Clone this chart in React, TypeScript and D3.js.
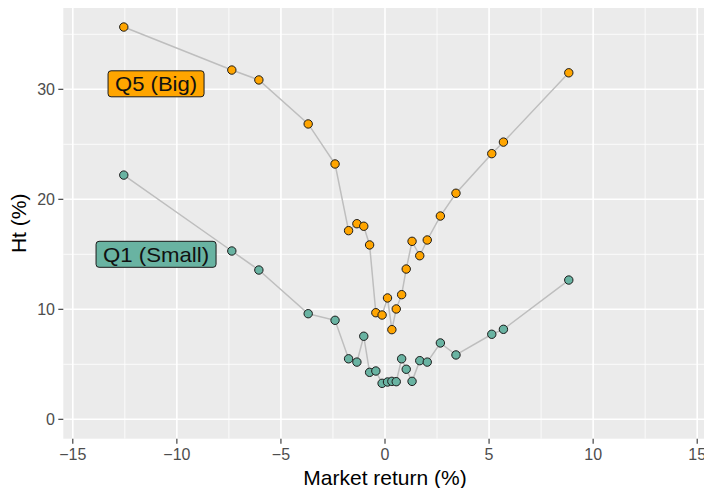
import * as d3 from 'd3';

// market return (%) shared by both size quintiles
const marketReturn = [
  -12.55, -7.36, -6.06, -3.69, -2.4, -1.75, -1.35, -1.02, -0.74, -0.44, -0.14, 0.12,
  0.33, 0.54, 0.8, 1.02, 1.3, 1.67, 2.03, 2.66, 3.41, 5.13, 5.69, 8.83,
];
const htBig = [
  35.66, 31.75, 30.85, 26.85, 23.21, 17.15, 17.78, 17.55, 15.85, 9.69, 9.48, 11.03,
  8.15, 10.03, 11.33, 13.66, 16.18, 14.87, 16.3, 18.48, 20.55, 24.15, 25.2, 31.5,
];
const htSmall = [
  22.2, 15.3, 13.57, 9.6, 9.0, 5.5, 5.2, 7.55, 4.27, 4.39, 3.27, 3.39,
  3.45, 3.42, 5.5, 4.55, 3.45, 5.33, 5.2, 6.94, 5.85, 7.73, 8.18, 12.66,
];
const seriesNames = ['Q5 (Big)', 'Q1 (Small)'];
const labelPos = [
  { x: -11, y: 30.5 },
  { x: -11, y: 15.0 },
];
const xTicks = [-15, -10, -5, 0, 5, 10, 15];
const yTicks = [0, 10, 20, 30];

const width = 704;
const height = 488;
const marginLeft = 63.3;
const marginTop = 8;
const panelBottom = 438.7;
const colors = ['#FFA500', '#69B3A2'];

export default function App() {
  const x = d3.scaleLinear([-15, 15], [72.8, 697.2]);
  const y = d3.scaleLinear([0, 30], [419.3, 89.3]);
  const xMinor = d3.range(-17.5, 17.6, 5);
  const yMinor = [5, 15, 25, 35];
  const line = d3
    .line<number>()
    .x((_, i) => x(marketReturn[i]))
    .y((d) => y(d));
  const series = [htBig, htSmall];
  const font = 'Liberation Sans, Arial, sans-serif';

  return (
    <svg
      width={width}
      height={height}
      style={{ position: 'absolute', left: 0, top: 0, background: 'white' }}
      fontFamily={font}
    >
      <rect x={marginLeft} y={marginTop} width={width - marginLeft + 5} height={panelBottom - marginTop} fill="#EBEBEB" />
      <g stroke="white">
        {xMinor.map((t) => (
          <line key={'xm' + t} x1={x(t)} x2={x(t)} y1={marginTop} y2={panelBottom} strokeWidth={0.8} />
        ))}
        {yMinor.map((t) => (
          <line key={'ym' + t} x1={marginLeft} x2={width} y1={y(t)} y2={y(t)} strokeWidth={0.8} />
        ))}
        {xTicks.map((t) => (
          <line key={'x' + t} x1={x(t)} x2={x(t)} y1={marginTop} y2={panelBottom} strokeWidth={1.6} />
        ))}
        {yTicks.map((t) => (
          <line key={'y' + t} x1={marginLeft} x2={width} y1={y(t)} y2={y(t)} strokeWidth={1.6} />
        ))}
      </g>
      {series.map((s, k) => (
        <path key={'l' + k} d={line(s) ?? ''} fill="none" stroke="#BEBEBE" strokeWidth={1.5} />
      ))}
      {series.map((s, k) => (
        <g key={'p' + k} fill={colors[k]} stroke="#1a1a1a" strokeWidth={1}>
          {s.map((d, i) => (
            <circle key={i} cx={x(marketReturn[i])} cy={y(d)} r={4.2} />
          ))}
        </g>
      ))}
      {seriesNames.map((name, k) => {
        const w = k === 0 ? 96 : 120;
        const cx = x(labelPos[k].x);
        const cy = y(labelPos[k].y);
        return (
          <g key={name}>
            <rect x={cx - w / 2} y={cy - 13} width={w} height={26} rx={3} fill={colors[k]} stroke="#1a1a1a" strokeWidth={1} />
            <text x={cx} y={cy + 7.5} textAnchor="middle" fontSize={21} textLength={w - 14} lengthAdjust="spacingAndGlyphs" fill="#111">
              {name}
            </text>
          </g>
        );
      })}
      <g stroke="#333" strokeWidth={1.1}>
        {xTicks.map((t) => (
          <line key={'xt' + t} x1={x(t)} x2={x(t)} y1={panelBottom} y2={panelBottom + 5} />
        ))}
        {yTicks.map((t) => (
          <line key={'yt' + t} x1={marginLeft - 5} x2={marginLeft} y1={y(t)} y2={y(t)} />
        ))}
      </g>
      <g fill="#4D4D4D" fontSize={16}>
        {xTicks.map((t) => (
          <text key={'xl' + t} x={x(t)} y={459.5} textAnchor="middle">
            {t < 0 ? '\u2212' + Math.abs(t) : t}
          </text>
        ))}
        {yTicks.map((t) => (
          <text key={'yl' + t} x={55} y={y(t) + 5.5} textAnchor="end">
            {t}
          </text>
        ))}
      </g>
      <text x={385} y={485} textAnchor="middle" fontSize={21}>
        Market return (%)
      </text>
      <text transform={`translate(26,${(marginTop + panelBottom) / 2}) rotate(-90)`} textAnchor="middle" fontSize={21}>
        Ht (%)
      </text>
    </svg>
  );
}
